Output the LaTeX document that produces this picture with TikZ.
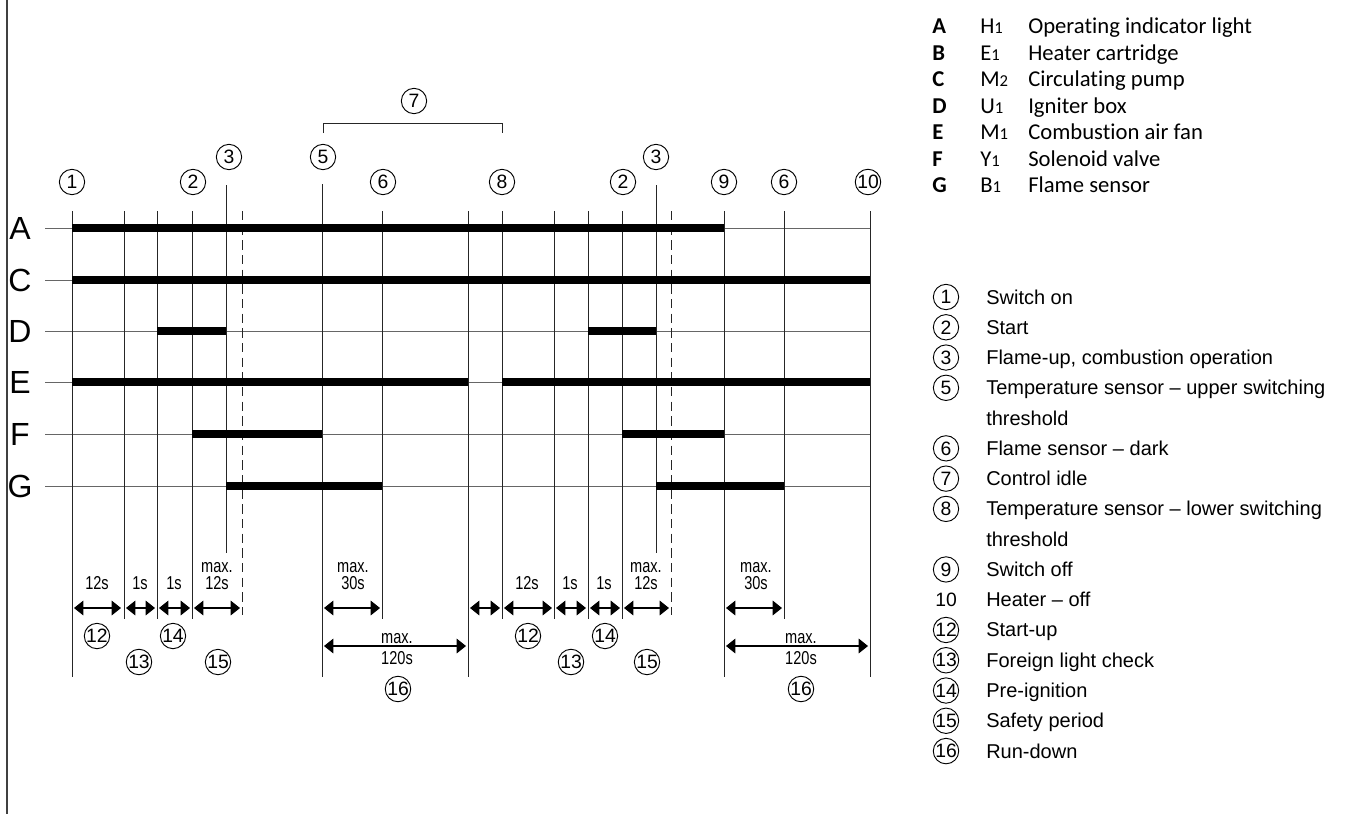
\documentclass[tikz,border=0pt]{standalone}
\usepackage{fontspec}
\setmainfont{Liberation Sans}
\newfontfamily\narrowfont[FakeStretch=0.78]{Liberation Sans}
\newfontfamily\legendfont[Ligatures=NoCommon]{Carlito}
\newcommand\osf[1]{{\fontsize{12.5}{12.5}\selectfont #1}}
\usetikzlibrary{arrows.meta}

\begin{document}
\begin{tikzpicture}[x=0.75pt,y=-0.75pt,line cap=butt,
  rowline/.style={line width=0.6pt,black!60},
  timeline/.style={line width=0.75pt,black!85},
  bar/.style={line width=5.4pt},
  num/.style={circle,draw,line width=0.7pt,minimum size=19pt,inner sep=0pt,font=\fontsize{14.5}{14.5}\selectfont},
  span/.style={line width=0.9pt,{Triangle[length=7pt,width=11pt]}-{Triangle[length=7pt,width=11pt]}},
  dur/.style={anchor=base,inner sep=0pt,font=\narrowfont\fontsize{14}{14}\selectfont},
  rowlabel/.style={font=\fontsize{24}{24}\selectfont},
  keyhead/.style={anchor=base west,inner sep=0pt,font=\legendfont\bfseries\fontsize{17}{17}\selectfont},
  key/.style={anchor=base west,inner sep=0pt,font=\legendfont\fontsize{17}{17}\selectfont},
  note/.style={anchor=base west,inner sep=0pt,font=\fontsize{15}{15}\selectfont}]

  \useasboundingbox (0,0) rectangle (1348,814);
  \draw[line width=1pt,black!75] (7,0) -- (7,814);

  % signal rows
  \foreach \r/\y in {A/228,C/280,D/331,E/382,F/434,G/486}{
    \draw[rowline] (45,\y) -- (870,\y);
    \node[rowlabel] (row\r) at (20,\y) {\r};
  }

  % time marks
  \foreach \x in {72,468,724,870} \draw[timeline] (\x,211) -- (\x,677);
  \draw[timeline] (322,184) -- (322,677);
  \foreach \x in {124,157,192,382,502,554,588,622,784} \draw[timeline] (\x,211) -- (\x,619);
  \foreach \x in {226,656} \draw[timeline] (\x,185) -- (\x,553);
  \foreach \x in {242,671} \draw[timeline,dash pattern=on 7pt off 4pt] (\x,211) -- (\x,615);

  % on periods
  \foreach \a/\b/\y in {72/724/228,72/870/280,157/226/331,588/656/331,72/468/382,
                        502/870/382,192/322/434,622/724/434,226/382/486,656/784/486}
    \draw[bar] (\a,\y) -- (\b,\y);

  % events
  \foreach \n/\t/\x/\y in {e1/1/72/182,e2/2/193/182,e3/3/229/157,e5/5/323/157,e6/6/383/182,
                           e8/8/502/182,e2b/2/623/182,e3b/3/656/157,e9/9/724/182,e6b/6/784/182,e10/10/868/182}
    \node[num] (\n) at (\x,\y) {\t};
  \node[num] (e7) at (414,101) {7};
  \draw[timeline] (e5 |- 0,133) -- (e5 |- 0,123) -- (e8 |- 0,123) -- (e8 |- 0,133);

  % durations
  \foreach \a/\b in {74/121,126/155,159/190,194/240,324/380,470/500,504/552,556/586,590/620,624/669,726/782}
    \draw[span] (\a,608) -- (\b,608);
  \draw[span] (324,646) -- (466,646);
  \draw[span] (726,646) -- (868,646);

  \foreach \n/\t/\x in {d1/12s/97,d2/1s/140,d3/1s/174,d4/12s/217,d5/30s/353,
                        d6/12s/527,d7/1s/570,d8/1s/604,d9/12s/646,d10/30s/756}
    \node[dur] (\n) at (\x,589) {\t};
  \foreach \n/\x in {m4/217,m5/353,m9/646,m10/756}
    \node[dur] (\n) at (\x,572) {max.};
  \node[dur] (m16) at (397,643) {max.};
  \node[dur] (d16) at (397,664) {120s};
  \node[dur] (m16b) at (801,643) {max.};
  \node[dur] (d16b) at (801,664) {120s};

  \foreach \n/\t/\x/\y in {p12/12/97/636,p13/13/139/662,p14/14/173/636,p15/15/218/662,p16/16/398/689,
                           p12b/12/528/636,p13b/13/571/662,p14b/14/605/636,p15b/15/647/662,p16b/16/801/689}
    \node[num] (\n) at (\x,\y) {\t};

  % legend, components
  \foreach \k/\c/\d/\t [count=\i from 0] in {A/H/1/Operating indicator light,B/E/1/Heater cartridge,
      C/M/2/Circulating pump,D/U/1/Igniter box,E/M/1/Combustion air fan,F/Y/1/Solenoid valve,G/B/1/Flame sensor}{
    \node[keyhead] (k\k) at (932,33.5+26.5*\i) {\k};
    \node[key] (c\k) at (980,33.5+26.5*\i) {\c\osf{\d}};
    \node[key] (t\k) at (1028,33.5+26.5*\i) {\t};
  }

  % legend, events
  \foreach \n/\r/\t in {1/0/Switch on,2/1/Start,3/2/{Flame-up, combustion operation},
      5/3/Temperature sensor – upper switching,6/5/Flame sensor – dark,7/6/Control idle,
      8/7/Temperature sensor – lower switching,9/9/Switch off,12/11/Start-up,
      13/12/Foreign light check,14/13/Pre-ignition,15/14/Safety period,16/15/Run-down}{
    \node[num] (n\n) at (946,297+30.27*\r) {\n};
    \node[note] (l\n) at (986,304+30.27*\r) {\t};
  }
  \node[font=\fontsize{14.5}{14.5}\selectfont,inner sep=0pt] (n10) at (946,297+30.27*10) {10};
  \node[note] (l10) at (986,304+30.27*10) {Heater – off};
  \node[note] (l5b) at (986,304+30.27*4) {threshold};
  \node[note] (l8b) at (986,304+30.27*8) {threshold};

\end{tikzpicture}
\end{document}
